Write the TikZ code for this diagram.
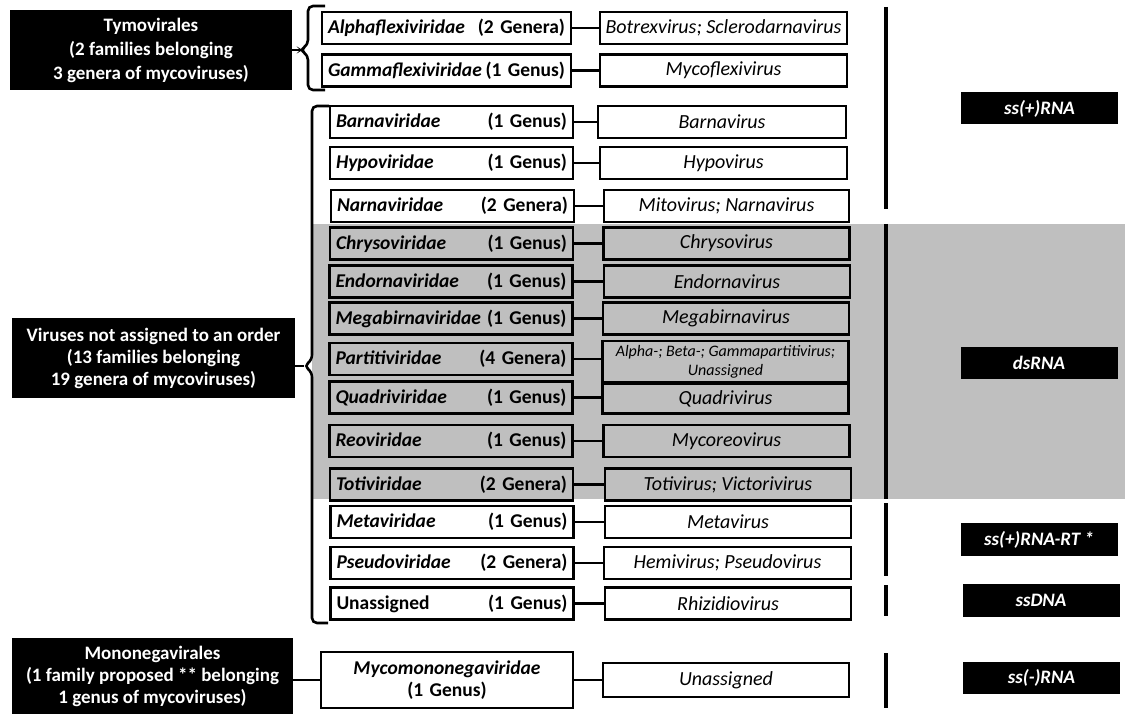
\documentclass[tikz,border=0pt]{standalone}
\usepackage{fontspec}
\setmainfont{Carlito}
\definecolor{graybg}{HTML}{BFBFBF}
\begin{document}
\begin{tikzpicture}[x=1pt,y=-1pt,
  order/.style={fill=black, text=white, align=center, inner sep=0, minimum width=282, minimum height=80, font=\bfseries\fontsize{19}{22}\selectfont},
  family/.style={draw, line width=2.4pt, text width=231, inner xsep=6, inner ysep=0, minimum height=32, font=\bfseries\fontsize{19.5}{22}\selectfont},
  genus/.style={draw, line width=2.4pt, align=center, inner sep=0, minimum width=246, minimum height=32, font=\itshape\fontsize{20}{22}\selectfont},
  kind/.style={fill=black, text=white, inner sep=0, minimum width=157, minimum height=32, font=\bfseries\itshape\fontsize{19}{22}\selectfont},
  link/.style={line width=2.4pt},
  brace/.style={line width=2.6pt, rounded corners=5pt},
  bar/.style={line width=3.4pt}]
\useasboundingbox (0,0) rectangle (1125,714);
\fill[graybg] (312,224) rectangle (1125,499);

\node[order, font=\bfseries\fontsize{19}{24}\selectfont] (tymo) at (151,50) {Tymovirales\\(2 families belonging\\3 genera of mycoviruses)};
\node[order, minimum width=283] (unord) at (153.5,358) {Viruses not assigned to an order\\(13 families belonging\\19 genera of mycoviruses)};
\node[order, minimum width=281, minimum height=76] (mono) at (152.5,676) {Mononegavirales\\(1 family proposed ** belonging\\1 genus of mycoviruses)};

\node[family, text width=237] (alpha) at (446.5,28) {\textit{Alphaflexiviridae}\hfill(2 Genera)};
\node[family, text width=237] (gamma) at (446.5,70.5) {\textit{Gammaflexiviridae}\hfill(1 Genus)};
\node[family] (barna) at (451.5,122) {\textit{Barnaviridae}\hfill(1 Genus)};
\node[family] (hypo) at (451.5,163) {\textit{Hypoviridae}\hfill(1 Genus)};
\node[family] (narna) at (452.5,206) {\textit{Narnaviridae}\hfill(2 Genera)};
\node[family] (chryso) at (451.5,243.5) {\textit{Chrysoviridae}\hfill(1 Genus)};
\node[family] (endorna) at (451,281.5) {\textit{Endornaviridae}\hfill(1 Genus)};
\node[family] (megabirna) at (451,318.5) {\textit{Megabirnaviridae}\hfill(1 Genus)};
\node[family] (partiti) at (451,359) {\textit{Partitiviridae}\hfill(4 Genera)};
\node[family] (quadri) at (451,397.5) {\textit{Quadriviridae}\hfill(1 Genus)};
\node[family] (reo) at (451,441) {\textit{Reoviridae}\hfill(1 Genus)};
\node[family] (toti) at (451.5,484.5) {\textit{Totiviridae}\hfill(2 Genera)};
\node[family] (meta) at (452,522) {\textit{Metaviridae}\hfill(1 Genus)};
\node[family] (pseudo) at (452,563) {\textit{Pseudoviridae}\hfill(2 Genera)};
\node[family] (unfam) at (452,603.5) {Unassigned\hfill(1 Genus)};
\node[family, text width=240, align=center, minimum height=56] (myco) at (447,680) {\textit{Mycomononegaviridae}\\(1 Genus)};

\node[genus, minimum width=247] (alphag) at (723.5,28) {Botrexvirus; Sclerodarnavirus};
\node[genus, minimum width=247] (gammag) at (723.5,70.5) {Mycoflexivirus};
\node[genus, minimum width=248] (barnag) at (722,122) {Barnavirus};
\node[genus, minimum width=247] (hypog) at (723.5,163) {Hypovirus};
\node[genus, minimum width=245] (narnag) at (726.5,206) {Mitovirus; Narnavirus};
\node[genus] (chrysog) at (726.5,243.5) {Chrysovirus};
\node[genus] (endornag) at (727,281.5) {Endornavirus};
\node[genus] (megabirnag) at (726,318.5) {Megabirnavirus};
\node[genus, minimum height=41, font=\itshape\fontsize{16}{19}\selectfont] (partitig) at (725.5,361.5) {Alpha-; Beta-; Gammapartitivirus;\\Unassigned};
\node[genus, minimum height=30] (quadrig) at (725.5,398.5) {Quadrivirus};
\node[genus] (reog) at (726.5,441) {Mycoreovirus};
\node[genus] (totig) at (728,484.5) {Totivirus; Victorivirus};
\node[genus] (metag) at (728,522) {Metavirus};
\node[genus, minimum width=247] (pseudog) at (727.5,563) {Hemivirus; Pseudovirus};
\node[genus] (rhizg) at (728,603.5) {Rhizidiovirus};
\node[genus, minimum height=34] (mycog) at (726,680) {Unassigned};

\draw[link] (alpha) -- (alphag);
\draw[link] (gamma) -- (gammag);
\draw[link] (barna) -- (barnag);
\draw[link] (hypo) -- (hypog);
\draw[link] (narna) -- (narnag);
\draw[link] (chryso) -- (chrysog);
\draw[link] (endorna) -- (endornag);
\draw[link] (megabirna) -- (megabirnag);
\draw[link] (partiti.east) -- (partiti.east -| partitig.west);
\draw[link] (quadri.east) -- (quadri.east -| quadrig.west);
\draw[link] (reo) -- (reog);
\draw[link] (toti) -- (totig);
\draw[link] (meta) -- (metag);
\draw[link] (pseudo) -- (pseudog);
\draw[link] (unfam) -- (rhizg);
\draw[link] (myco) -- (mycog);

\coordinate (tip1) at (300,50);
\coordinate (tip2) at (304,366);
\draw[brace] (325,6) -- (308,6) -- (308,45) -- (tip1) -- (308,55) -- (308,90) -- (325,90);
\draw[brace] (329,106) -- (312,106) -- (312,360) -- (tip2) -- (312,372) -- (312,623) -- (328,623);
\draw[link] (tymo) -- (tip1);
\draw[link] (unord.east |- tip2) -- (tip2);
\draw[link] (mono.east |- myco.west) -- (myco.west);

\draw[bar] (886,7) -- (886,209);
\draw[bar] (886,224) -- (886,499);
\draw[bar] (886,503) -- (886,576);
\draw[bar] (886,585) -- (886,616);
\draw[bar] (886,653) -- (886,708);

\node[kind] (ssplus) at (1039.5,108.5) {ss(+)RNA};
\node[kind] (ds) at (1039,363) {dsRNA};
\node[kind, minimum height=33] (rt) at (1039,539.5) {ss(+)RNA-RT *};
\node[kind, minimum height=33] (ssdna) at (1041,600.5) {ssDNA};
\node[kind] (ssminus) at (1041.5,678) {ss(-)RNA};
\end{tikzpicture}
\end{document}
